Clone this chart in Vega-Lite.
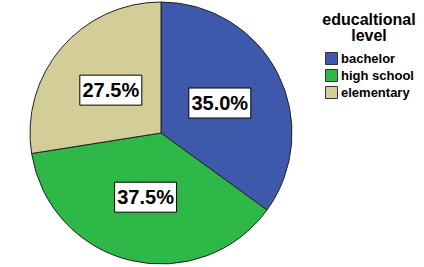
{
  "$schema": "https://vega.github.io/schema/vega-lite/v6.json",
  "width": 322,
  "height": 266,
  "padding": {"left": 0, "top": 0, "right": 102, "bottom": 1},
  "autosize": {"type": "none"},
  "background": "white",
  "data": {"values": [
    {"level": "bachelor", "pct": 35.0},
    {"level": "high school", "pct": 37.5},
    {"level": "elementary", "pct": 27.5}
  ]},
  "transform": [
    {"calculate": "indexof(['bachelor','high school','elementary'], datum.level)", "as": "ord"},
    {"window": [{"op": "sum", "field": "pct", "as": "cum"}], "sort": [{"field": "ord"}], "frame": [null, 0]},
    {"calculate": "(datum.cum - datum.pct / 2) / 100 * 2 * PI", "as": "mid"},
    {"calculate": "66 * sin(datum.mid)", "as": "lx"},
    {"calculate": "66 * cos(datum.mid)", "as": "ly"},
    {"calculate": "format(datum.pct, '.1f') + '%'", "as": "label"}
  ],
  "config": {"view": {"stroke": null}, "font": "Liberation Sans"},
  "layer": [
    {
      "mark": {"type": "arc", "outerRadius": 131, "stroke": "#222222", "strokeWidth": 1},
      "encoding": {
        "theta": {"field": "pct", "type": "quantitative", "stack": true},
        "order": {"field": "ord", "type": "quantitative"},
        "color": {
          "field": "level", "type": "nominal",
          "scale": {"domain": ["bachelor", "high school", "elementary"], "range": ["#3E58AC", "#2EB848", "#D3CE97"]},
          "legend": {
            "orient": "none", "legendX": 322, "legendY": 12,
            "title": ["educaltional", "level"],
            "titleFont": "Liberation Sans", "titleFontSize": 16, "titleFontWeight": "bold", "titleColor": "black",
            "titleAlign": "center", "titleAnchor": "middle", "titleLineHeight": 16, "titlePadding": 8,
            "titleBaseline": "top",
            "labelFont": "Liberation Sans", "labelFontSize": 13, "labelFontWeight": "bold", "labelColor": "black",
            "labelOffset": 3,
            "symbolType": "square", "symbolSize": 144, "symbolStrokeColor": "#333333", "symbolStrokeWidth": 1,
            "symbolOpacity": 1,
            "rowPadding": 0, "padding": 0
          }
        }
      }
    },
    {
      "mark": {"type": "point", "shape": "M-1,-0.484H1V0.484H-1Z", "size": 3844, "filled": true, "fill": "white", "stroke": "black", "strokeWidth": 1, "opacity": 1},
      "encoding": {
        "x": {"field": "lx", "type": "quantitative", "scale": {"domain": [-161, 161], "nice": false, "zero": false}, "axis": null},
        "y": {"field": "ly", "type": "quantitative", "scale": {"domain": [-133, 133], "nice": false, "zero": false}, "axis": null}
      }
    },
    {
      "mark": {"type": "text", "font": "Liberation Sans", "fontSize": 20, "fontWeight": "bold", "color": "black", "align": "center", "baseline": "middle", "dy": 1},
      "encoding": {
        "x": {"field": "lx", "type": "quantitative"},
        "y": {"field": "ly", "type": "quantitative"},
        "text": {"field": "label", "type": "nominal"}
      }
    }
  ]
}
